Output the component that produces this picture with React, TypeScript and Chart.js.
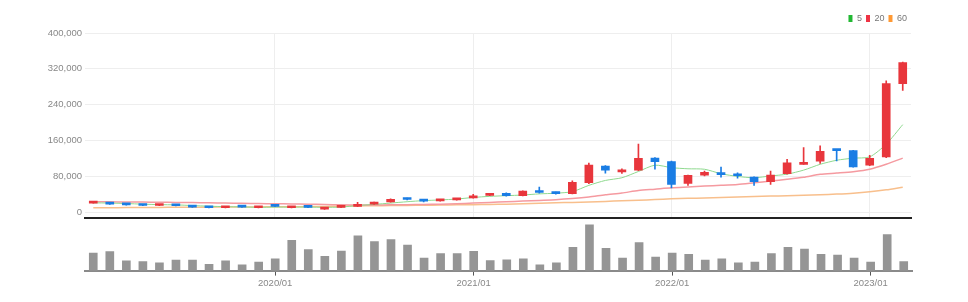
import React, { useEffect, useRef } from "react";
import { Chart, registerables } from "chart.js";

Chart.register(...registerables);

const months: string[] = [
  "2019/02", "2019/03", "2019/04", "2019/05", "2019/06", "2019/07", "2019/08", "2019/09", "2019/10", "2019/11", "2019/12",
  "2020/01", "2020/02", "2020/03", "2020/04", "2020/05", "2020/06", "2020/07", "2020/08", "2020/09", "2020/10", "2020/11", "2020/12",
  "2021/01", "2021/02", "2021/03", "2021/04", "2021/05", "2021/06", "2021/07", "2021/08", "2021/09", "2021/10", "2021/11", "2021/12",
  "2022/01", "2022/02", "2022/03", "2022/04", "2022/05", "2022/06", "2022/07", "2022/08", "2022/09", "2022/10", "2022/11", "2022/12",
  "2023/01", "2023/02", "2023/03",
];

const opens: number[] = [
  20500, 20000, 18500, 17000, 15000, 17000, 14000, 11500, 10000, 12500, 10000,
  14500, 10000, 12500, 7000, 11000, 13000, 18000, 23000, 30000, 28000, 25500, 27500,
  32000, 37500, 42500, 37000, 48000, 44500, 41500, 66000, 103000, 90000, 94000, 121000,
  113000, 64500, 83000, 88500, 85000, 78500, 68000, 86000, 107000, 114000, 139000, 137500,
  105000, 123500, 287000,
];
const closes: number[] = [
  22000, 18000, 16500, 15000, 17000, 14500, 11500, 10000, 11000, 11500, 11000,
  13000, 11000, 11000, 10000, 13000, 15500, 21500, 29000, 28500, 25000, 26500, 30000,
  36500, 40500, 37000, 47000, 44000, 41500, 67000, 105000, 94000, 93500, 120500, 113000,
  62000, 82500, 89000, 84000, 81500, 68000, 83000, 110500, 109000, 136000, 137500, 101000,
  120500, 287000, 334000,
];
const highs: number[] = [
  22500, 20500, 19000, 17500, 17500, 17500, 14500, 12000, 11500, 13000, 11500,
  15000, 11500, 13000, 10500, 13500, 22000, 22500, 30000, 31500, 28500, 27000, 31000,
  40000, 41500, 43500, 48000, 56000, 45000, 70000, 110000, 104000, 97000, 152000, 122000,
  114000, 83000, 92000, 101000, 88000, 79000, 92000, 118000, 144500, 148000, 139500, 138000,
  127000, 293000, 335000,
];
const lows: number[] = [
  20000, 17500, 16000, 14500, 14500, 14000, 11000, 9500, 9500, 11000, 9500,
  12500, 9500, 10500, 6500, 10500, 12500, 17500, 22500, 27500, 23000, 25000, 27000,
  31500, 37000, 36000, 36500, 42500, 40500, 41000, 64000, 87000, 86500, 93000, 96000,
  54500, 60000, 81000, 78500, 76000, 60000, 62000, 85000, 106500, 109000, 114500, 100500,
  104000, 122000, 272000,
];

const ma5: number[] = [
  21000, 20500, 19500, 18000, 17000, 16500, 15000, 13500, 12500, 12000, 11000,
  11500, 11500, 11500, 11000, 11500, 15000, 17500, 20500, 23500, 26000, 27500, 29500,
  33000, 35500, 37000, 38500, 41000, 42500, 46000, 60000, 71000, 77000, 91000, 105000,
  99500, 97000, 96000, 86000, 80000, 77000, 81000, 85000, 94000, 107000, 116000, 120700,
  123600, 152000, 195500,
];
const ma20: number[] = [
  23500, 23300, 23000, 22700, 22400, 22000, 21500, 21000, 20500, 20000, 19500,
  19000, 18500, 18000, 17200, 16500, 16000, 16000, 16500, 17000, 17500, 18000, 19000,
  20500, 22000, 23500, 25000, 26500, 28000, 30500, 34000, 39000, 43000, 48500, 51500,
  54600, 56500, 58400, 60000, 62000, 65800, 69700, 73500, 78000, 84700, 87500, 90600,
  96000, 107000, 120700,
];
const ma60: number[] = [
  10000, 10200, 10400, 10600, 10800, 11000, 11200, 11400, 11600, 11800, 12000,
  12200, 12400, 12700, 13000, 13500, 14000, 14500, 15000, 15300, 15700, 16000, 16500,
  17000, 17500, 18000, 19000, 20000, 21000, 22000, 23000, 24200, 25500, 26800, 28300,
  30000, 31000, 32000, 33000, 34000, 35000, 36000, 37000, 38000, 39000, 40500, 42500,
  45600, 50000, 56000,
];

const volumes: number[] = [
  173, 187, 97, 90, 77, 103, 103, 63, 97, 57, 83,
  117, 300, 207, 140, 193, 343, 287, 307, 253, 123, 167, 167,
  190, 100, 107, 117, 57, 77, 230, 453, 220, 123, 277, 133,
  173, 160, 103, 117, 77, 83, 167, 230, 213, 160, 153, 123,
  83, 357, 90,
];

const priceTicks: number[] = [0, 80000, 160000, 240000, 320000, 400000];
const maNames: string[] = ["5", "20", "60"];

const UP = "#e8363c";
const DOWN = "#1a7de4";
const FONT = "'Liberation Sans Narrow', 'Liberation Sans', Arial, sans-serif";
const TICK_FONT: any = { size: 9.5, family: FONT };
const LEGEND_FONT: any = { size: 9, family: FONT };

const isYear = (i: number) => months[i] !== undefined && months[i].endsWith("/01");

export default function App() {
  const topRef = useRef<HTMLCanvasElement | null>(null);
  const botRef = useRef<HTMLCanvasElement | null>(null);

  useEffect(() => {
    if (!topRef.current || !botRef.current) return;
    Chart.defaults.font.family = FONT;
    const candleColors = opens.map((o, i) => (closes[i] >= o ? UP : DOWN));
    const legendColors = ["#22b833", "#ee3344", "#ff9933"];
    const lineColors = ["#8fd98f", "#f59aa0", "#f8bf8c"];

    const top = new Chart(topRef.current, {
      type: "bar",
      data: {
        labels: months,
        datasets: [
          {
            type: "bar",
            label: "body",
            data: opens.map((o, i) => [o, closes[i]]) as any,
            backgroundColor: candleColors,
            barThickness: 8,
            minBarLength: 2,
            grouped: false,
            order: 0,
          } as any,
          {
            type: "bar",
            label: "wick",
            data: lows.map((l, i) => [l, highs[i]]) as any,
            backgroundColor: candleColors,
            barThickness: 1,
            grouped: false,
            order: 1,
          } as any,
          ...[ma5, ma20, ma60].map((d, k) => ({
            type: "line",
            label: maNames[k],
            data: d,
            borderColor: lineColors[k],
            backgroundColor: legendColors[k],
            borderWidth: k === 0 ? 1 : 1.5,
            pointRadius: 0,
            tension: 0.25,
            fill: false,
            order: 2 + k,
          })) as any,
        ],
      },
      options: {
        animation: false,
        responsive: false,
        layout: { padding: { top: 10, right: 57, left: 0, bottom: 0 } },
        plugins: {
          tooltip: { enabled: false },
          legend: {
            position: "top",
            align: "end",
            labels: {
              boxWidth: 4,
              boxHeight: 7,
              padding: 4,
              color: "#777",
              font: LEGEND_FONT,
              generateLabels: () =>
                maNames.map((n, k) => ({
                  text: n,
                  fillStyle: legendColors[k],
                  strokeStyle: legendColors[k],
                  lineWidth: 0,
                  datasetIndex: k + 2,
                  hidden: false,
                  fontColor: "#777",
                })),
            },
          },
        },
        scales: {
          x: {
            offset: true,
            ticks: { display: false },
            grid: {
              offset: false,
              drawTicks: false,
              color: (ctx: any) => (isYear(ctx.index) ? "#eeeeee" : "rgba(0,0,0,0)"),
            },
            border: { color: "#222", width: 2 },
          },
          y: {
            min: -13483,
            max: 400000,
            afterBuildTicks: (s: any) => {
              s.ticks = priceTicks.map((v) => ({ value: v }));
            },
            afterFit: (s: any) => {
              s.width = 85;
            },
            ticks: {
              color: "#888",
              padding: 3,
              font: TICK_FONT,
              callback: (v: any) => Number(v).toLocaleString("en-US"),
            },
            grid: { color: "#eeeeee", drawTicks: false },
            border: { display: false },
          },
        },
      },
    });

    const bot = new Chart(botRef.current, {
      type: "bar",
      data: {
        labels: months,
        datasets: [
          {
            label: "volume",
            data: volumes,
            backgroundColor: "#959595",
            barThickness: 8,
          },
        ],
      },
      options: {
        animation: false,
        responsive: false,
        layout: { padding: { top: 1, right: 56, left: 85, bottom: 12 } },
        plugins: { legend: { display: false }, tooltip: { enabled: false } },
        scales: {
          x: {
            offset: true,
            grid: {
              offset: false,
              drawOnChartArea: false,
              drawTicks: true,
              tickLength: 5,
              color: (ctx: any) => (isYear(ctx.index) ? "#555" : "rgba(0,0,0,0)"),
            },
            border: { color: "#8a8a8a", width: 2 },
            ticks: {
              autoSkip: false,
              maxRotation: 0,
              padding: 2,
              color: "#888",
              font: TICK_FONT,
              callback: (_v: any, i: number) => (isYear(i) ? months[i] : ""),
            },
          },
          y: { display: false, min: 0, max: 500 },
        },
      },
    });

    return () => {
      top.destroy();
      bot.destroy();
    };
  }, []);

  return (
    <div style={{ position: "absolute", left: 0, top: 0, width: 968, height: 302, background: "#fff" }}>
      <canvas ref={topRef} width={968} height={227} style={{ position: "absolute", left: 0, top: 0 }} />
      <canvas ref={botRef} width={968} height={84} style={{ position: "absolute", left: 0, top: 219 }} />
    </div>
  );
}
